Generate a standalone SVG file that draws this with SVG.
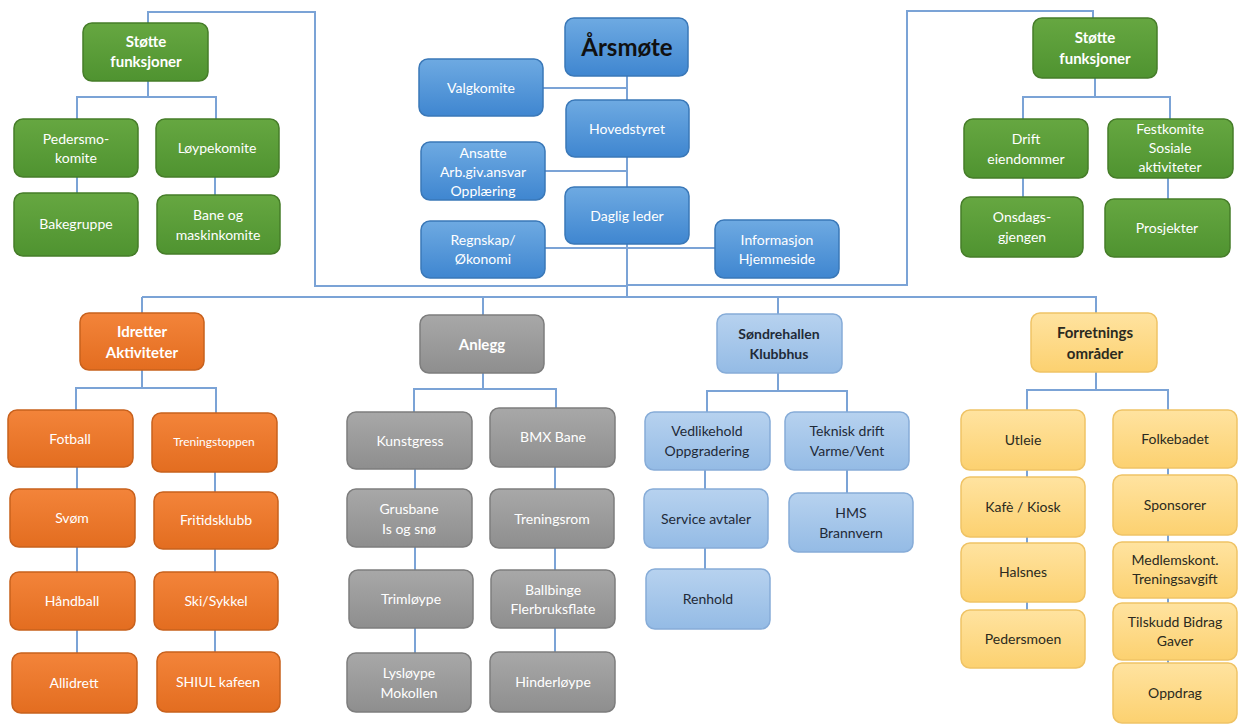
<svg xmlns="http://www.w3.org/2000/svg" width="1238" height="724" viewBox="0 0 1238 724">
<defs>
<linearGradient id="gG" x1="0" y1="0" x2="0" y2="1"><stop offset="0" stop-color="#66a741"/><stop offset="1" stop-color="#4f9330"/></linearGradient>
<linearGradient id="gO" x1="0" y1="0" x2="0" y2="1"><stop offset="0" stop-color="#f3843a"/><stop offset="1" stop-color="#e36d20"/></linearGradient>
<linearGradient id="gS" x1="0" y1="0" x2="0" y2="1"><stop offset="0" stop-color="#a8a8a8"/><stop offset="1" stop-color="#8e8e8e"/></linearGradient>
<linearGradient id="gB" x1="0" y1="0" x2="0" y2="1"><stop offset="0" stop-color="#6eaae2"/><stop offset="1" stop-color="#3f86d0"/></linearGradient>
<linearGradient id="gL" x1="0" y1="0" x2="0" y2="1"><stop offset="0" stop-color="#b7d2ef"/><stop offset="1" stop-color="#94bbe5"/></linearGradient>
<linearGradient id="gY" x1="0" y1="0" x2="0" y2="1"><stop offset="0" stop-color="#ffe3a0"/><stop offset="1" stop-color="#fcd170"/></linearGradient>
</defs>
<style>
.c{fill:none;stroke:#7ba3d6;stroke-width:2}
rect{rx:9;ry:9;stroke-width:1.5}
.g rect{fill:url(#gG);stroke:#467d29}
.o rect{fill:url(#gO);stroke:#c8611d}
.s rect{fill:url(#gS);stroke:#7d7d7d}
.b rect{fill:url(#gB);stroke:#3a78b8}
.l rect{fill:url(#gL);stroke:#86acd8}
.y rect{fill:url(#gY);stroke:#efc365}
text{font-family:Lato,"Open Sans","Liberation Sans",sans-serif;font-size:14px;text-anchor:middle}
.g text,.o text,.s text,.b text{fill:#ffffff}
.l text{fill:#1f2a38}
.y text{fill:#2b2a20}
.bd{font-weight:bold;font-size:15px}
</style>
<rect x="0" y="0" width="1238" height="724" style="fill:#ffffff;stroke:none;rx:0"/>
<g id="connectors">
<path class="c" d="M148 23V12H315V286H627"/>
<path class="c" d="M1093 18V11H907V285H627"/>
<path class="c" d="M627 76V297"/>
<path class="c" d="M543 88H627M545 171H627M545 248H715"/>
<path class="c" d="M142 297H1097M142 297V313M483 297V315M778 297V314M1096 297V313"/>
<path class="c" d="M148 81V97M77 119V97H216V119M77 177V193M215 177V195"/>
<path class="c" d="M1095 78V97M1023 119V97H1170V119M1023 178V197M1168 178V199"/>
<path class="c" d="M142 370V388M76 410V388H216V413M77 467V489M77 547V572M77 630V653M215 472V492M215 549V572M215 630V652"/>
<path class="c" d="M483 373V389M414 412V389H556V408M415 469V489M415 547V570M415 628V653M555 467V489M555 548V570M555 628V652"/>
<path class="c" d="M778 373V391M707 412V391H847V412M705 470V489M705 548V569M847 470V493"/>
<path class="c" d="M1096 372V390M1027 410V390H1168V410M1027 470V477M1027 537V543M1027 602V610M1168 468V475M1168 535V542M1168 598V603M1168 660V663"/>
</g>
<g id="arsmote" class="b"><rect x="565" y="18" width="123" height="58"/><text x="627" y="56" style="fill:#111;font-weight:bold;font-size:24px">Årsmøte</text></g>
<g id="valgkomite" class="b"><rect x="419" y="59" width="124" height="57"/><text x="481" y="93">Valgkomite</text></g>
<g id="hovedstyret" class="b"><rect x="566" y="100" width="123" height="57"/><text x="627" y="134">Hovedstyret</text></g>
<g id="ansatte" class="b"><rect x="421" y="142" width="124" height="58"/><text x="483" y="158">Ansatte</text><text x="483" y="177">Arb.giv.ansvar</text><text x="483" y="196">Opplæring</text></g>
<g id="daglig" class="b"><rect x="565" y="187" width="124" height="57"/><text x="627" y="221">Daglig leder</text></g>
<g id="regnskap" class="b"><rect x="421" y="221" width="124" height="57"/><text x="483" y="245">Regnskap/</text><text x="483" y="264">Økonomi</text></g>
<g id="informasjon" class="b"><rect x="715" y="220" width="124" height="58"/><text x="777" y="245">Informasjon</text><text x="777" y="264">Hjemmeside</text></g>

<g id="stotte-l" class="g"><rect x="83" y="23" width="125" height="58"/><text class="bd" x="146" y="47">Støtte</text><text class="bd" x="146" y="67">funksjoner</text></g>
<g id="pedersmo" class="g"><rect x="14" y="119" width="124" height="58"/><text x="76" y="144">Pedersmo-</text><text x="76" y="163">komite</text></g>
<g id="loypekomite" class="g"><rect x="156" y="119" width="123" height="58"/><text x="217" y="153">Løypekomite</text></g>
<g id="bakegruppe" class="g"><rect x="14" y="193" width="124" height="63"/><text x="76" y="229">Bakegruppe</text></g>
<g id="bane" class="g"><rect x="157" y="195" width="123" height="59"/><text x="218" y="220">Bane og</text><text x="218" y="240">maskinkomite</text></g>

<g id="stotte-r" class="g"><rect x="1033" y="18" width="124" height="60"/><text class="bd" x="1095" y="43">Støtte</text><text class="bd" x="1095" y="64">funksjoner</text></g>
<g id="drift" class="g"><rect x="964" y="119" width="124" height="59"/><text x="1026" y="144">Drift</text><text x="1026" y="164">eiendommer</text></g>
<g id="festkomite" class="g"><rect x="1108" y="119" width="125" height="59"/><text x="1170" y="134">Festkomite</text><text x="1170" y="153">Sosiale</text><text x="1170" y="172">aktiviteter</text></g>
<g id="onsdags" class="g"><rect x="961" y="197" width="122" height="60"/><text x="1022" y="222">Onsdags-</text><text x="1022" y="242">gjengen</text></g>
<g id="prosjekter" class="g"><rect x="1105" y="199" width="125" height="58"/><text x="1167" y="233">Prosjekter</text></g>

<g id="idretter" class="o"><rect x="80" y="313" width="124" height="57"/><text class="bd" x="142" y="337">Idretter</text><text class="bd" x="142" y="358">Aktiviteter</text></g>
<g id="fotball" class="o"><rect x="8" y="410" width="125" height="57"/><text x="70" y="444">Fotball</text></g>
<g id="treningstoppen" class="o"><rect x="152" y="413" width="125" height="59"/><text x="214" y="446" style="font-size:12px">Treningstoppen</text></g>
<g id="svom" class="o"><rect x="10" y="489" width="125" height="58"/><text x="72" y="523">Svøm</text></g>
<g id="fritidsklubb" class="o"><rect x="154" y="492" width="124" height="57"/><text x="216" y="525">Fritidsklubb</text></g>
<g id="handball" class="o"><rect x="10" y="572" width="125" height="58"/><text x="72" y="606">Håndball</text></g>
<g id="skisykkel" class="o"><rect x="154" y="572" width="124" height="58"/><text x="216" y="606">Ski/Sykkel</text></g>
<g id="allidrett" class="o"><rect x="12" y="653" width="125" height="60"/><text x="74" y="688">Allidrett</text></g>
<g id="shiul" class="o"><rect x="157" y="652" width="123" height="60"/><text x="218" y="687">SHIUL kafeen</text></g>

<g id="anlegg" class="s"><rect x="420" y="315" width="124" height="58"/><text class="bd" x="482" y="350">Anlegg</text></g>
<g id="kunstgress" class="s"><rect x="347" y="412" width="125" height="57"/><text x="410" y="446">Kunstgress</text></g>
<g id="bmx" class="s"><rect x="490" y="408" width="125" height="59"/><text x="553" y="442">BMX Bane</text></g>
<g id="grusbane" class="s"><rect x="347" y="489" width="125" height="58"/><text x="409" y="514">Grusbane</text><text x="409" y="534">Is og snø</text></g>
<g id="treningsrom" class="s"><rect x="490" y="489" width="124" height="59"/><text x="552" y="524">Treningsrom</text></g>
<g id="trimloype" class="s"><rect x="349" y="570" width="124" height="58"/><text x="411" y="604">Trimløype</text></g>
<g id="ballbinge" class="s"><rect x="491" y="570" width="124" height="58"/><text x="553" y="595">Ballbinge</text><text x="553" y="614">Flerbruksflate</text></g>
<g id="lysloype" class="s"><rect x="347" y="653" width="124" height="59"/><text x="409" y="678">Lysløype</text><text x="409" y="698">Mokollen</text></g>
<g id="hinderloype" class="s"><rect x="490" y="652" width="125" height="60"/><text x="553" y="687">Hinderløype</text></g>

<g id="sondrehallen" class="l"><rect x="717" y="314" width="125" height="59"/><text class="bd" x="779" y="339" style="font-size:14px">Søndrehallen</text><text class="bd" x="779" y="359" style="font-size:14px">Klubbhus</text></g>
<g id="vedlikehold" class="l"><rect x="645" y="412" width="125" height="58"/><text x="707" y="436">Vedlikehold</text><text x="707" y="456">Oppgradering</text></g>
<g id="teknisk" class="l"><rect x="785" y="412" width="124" height="58"/><text x="847" y="436">Teknisk drift</text><text x="847" y="456">Varme/Vent</text></g>
<g id="service" class="l"><rect x="644" y="489" width="124" height="59"/><text x="706" y="524">Service avtaler</text></g>
<g id="hms" class="l"><rect x="789" y="493" width="124" height="59"/><text x="851" y="518">HMS</text><text x="851" y="538">Brannvern</text></g>
<g id="renhold" class="l"><rect x="646" y="569" width="124" height="60"/><text x="708" y="604">Renhold</text></g>

<g id="forretnings" class="y"><rect x="1031" y="313" width="126" height="59"/><text class="bd" x="1095" y="338">Forretnings</text><text class="bd" x="1095" y="359">områder</text></g>
<g id="utleie" class="y"><rect x="961" y="410" width="124" height="60"/><text x="1023" y="445">Utleie</text></g>
<g id="folkebadet" class="y"><rect x="1113" y="410" width="124" height="58"/><text x="1175" y="444">Folkebadet</text></g>
<g id="kafe" class="y"><rect x="961" y="477" width="124" height="60"/><text x="1023" y="512">Kafè / Kiosk</text></g>
<g id="sponsorer" class="y"><rect x="1113" y="475" width="124" height="60"/><text x="1175" y="510">Sponsorer</text></g>
<g id="halsnes" class="y"><rect x="961" y="543" width="124" height="59"/><text x="1023" y="577">Halsnes</text></g>
<g id="medlemskont" class="y"><rect x="1113" y="542" width="124" height="56"/><text x="1175" y="565">Medlemskont.</text><text x="1175" y="584">Treningsavgift</text></g>
<g id="pedersmoen" class="y"><rect x="961" y="610" width="124" height="58"/><text x="1023" y="644">Pedersmoen</text></g>
<g id="tilskudd" class="y"><rect x="1113" y="603" width="124" height="57"/><text x="1175" y="627">Tilskudd Bidrag</text><text x="1175" y="646">Gaver</text></g>
<g id="oppdrag" class="y"><rect x="1113" y="663" width="124" height="60"/><text x="1175" y="698">Oppdrag</text></g>
</svg>
